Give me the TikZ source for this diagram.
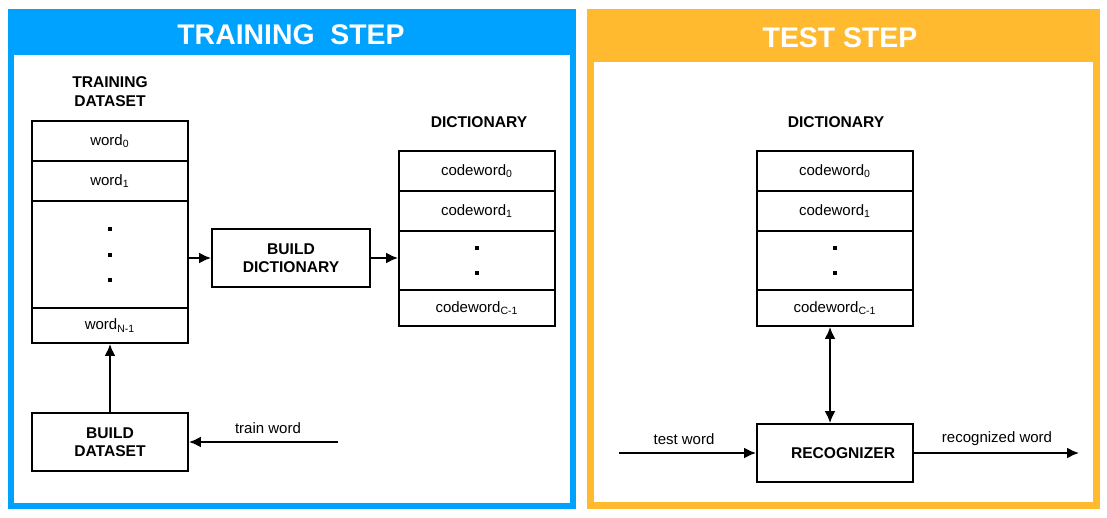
\documentclass[tikz,border=0pt]{standalone}
\usepackage{fontspec}
\setmainfont{Liberation Sans}
\usetikzlibrary{arrows.meta,calc}
\definecolor{tblue}{RGB}{0,162,255}
\definecolor{torange}{RGB}{255,186,48}
\begin{document}
\begin{tikzpicture}[x=0.5pt,y=-0.5pt,
 cell/.style={draw, line width=0.95pt, minimum width=78pt, minimum height=20pt, inner sep=0pt, font=\fontsize{7.5}{9}\selectfont},
 proc/.style={draw, line width=0.95pt, minimum width=78pt, minimum height=29pt, inner sep=0pt, align=center, font=\fontsize{7.8}{9.2}\selectfont\bfseries},
 lbl/.style={font=\fontsize{7.8}{9.4}\selectfont\bfseries, align=center, inner sep=0pt},
 edgelbl/.style={font=\fontsize{7.5}{9}\selectfont, inner sep=0pt},
 arr/.style={-{Latex[length=6pt,width=5.5pt]}, line width=0.95pt},
 dblarr/.style={{Latex[length=6pt,width=5.5pt]}-{Latex[length=6pt,width=5.5pt]}, line width=0.95pt},
 sqdot/.style={fill=black},
 paneltitle/.style={text=white, font=\fontsize{14.2}{16}\selectfont\bfseries, inner sep=0pt}]
\useasboundingbox (0,0) rectangle (1107,518);
% panels
\fill[tblue] (8,9) rectangle (576,509);
\fill[white] (14,55) rectangle (570,503);
\fill[torange] (587,9) rectangle (1100,509);
\fill[white] (594,62) rectangle (1093,502);
\node[paneltitle] (t1) at (291,35) {TRAINING\ \ STEP};
\node[paneltitle] (t2) at (840,38) {TEST STEP};
% training dataset
\node[lbl] (tdl) at (110,92) {TRAINING\\DATASET};
\node[cell] (w0) at (110,141) {word\textsubscript{0}};
\node[cell] (w1) at (110,181) {word\textsubscript{1}};
\node[cell, minimum height=53.5pt] (wd) at (110,254.5) {};
\node[cell, minimum height=17.5pt] (wn) at (110,325.5) {word\textsubscript{N-1}};
\fill[sqdot] ($(wd.center)+(-2,-27)$) rectangle +(4,4);
\fill[sqdot] ($(wd.center)+(-2,-2)$) rectangle +(4,4);
\fill[sqdot] ($(wd.center)+(-2,23)$) rectangle +(4,4);
% build dictionary
\node[proc, minimum width=79pt] (bd) at (291,258) {BUILD\\DICTIONARY};
% dictionary (training)
\node[lbl] (dl1) at (479,122) {DICTIONARY};
\node[cell] (c0) at (477,171) {codeword\textsubscript{0}};
\node[cell] (c1) at (477,211) {codeword\textsubscript{1}};
\node[cell, minimum height=29.5pt] (cd) at (477,260.5) {};
\node[cell, minimum height=18pt] (cn) at (477,308) {codeword\textsubscript{C-1}};
\fill[sqdot] ($(cd.center)+(-2,-15)$) rectangle +(4,4);
\fill[sqdot] ($(cd.center)+(-2,10)$) rectangle +(4,4);
\draw[arr] (bd.west -| wd.east) -- (bd.west);
\draw[arr] (bd.east) -- (bd.east -| cd.west);
% build dataset
\node[proc] (bds) at (110,442) {BUILD\\DATASET};
\draw[arr] (bds.north) -- (wn.south);
\coordinate (tw) at (338,442);
\draw[arr] (tw) -- (bds.east);
\node[edgelbl] (twl) at (268,428) {train word};
% test step dictionary
\node[lbl] (dl2) at (836,122) {DICTIONARY};
\node[cell] (r0) at (835,171) {codeword\textsubscript{0}};
\node[cell] (r1) at (835,211) {codeword\textsubscript{1}};
\node[cell, minimum height=29.5pt] (rd) at (835,260.5) {};
\node[cell, minimum height=18pt] (rn) at (835,308) {codeword\textsubscript{C-1}};
\fill[sqdot] ($(rd.center)+(-2,-15)$) rectangle +(4,4);
\fill[sqdot] ($(rd.center)+(-2,10)$) rectangle +(4,4);
% recognizer
\node[proc] (rec) at (835,453) {\hspace{8pt}RECOGNIZER};
\draw[dblarr] ([xshift=-2.5pt]rn.south) -- ([xshift=-2.5pt]rec.north);
\coordinate (tin) at (619,453);
\coordinate (tout) at (1079,453);
\draw[arr] (tin) -- (rec.west);
\draw[arr] (rec.east) -- (tout);
\node[edgelbl] (twl2) at (684,439) {test word};
\node[edgelbl] (rwl) at (997,439) {recognized word};
\end{tikzpicture}
\end{document}
